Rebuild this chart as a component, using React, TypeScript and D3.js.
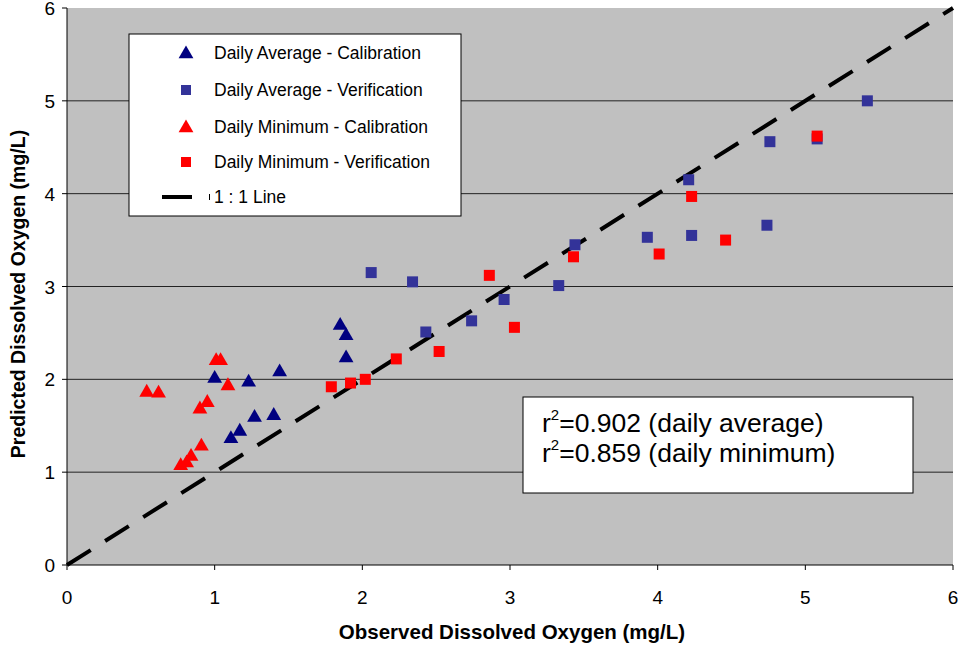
import React from "react";
import * as d3 from "d3";

const avgCalX = [1.0, 1.23, 1.44, 1.85, 1.89, 1.89, 1.27, 1.40, 1.17, 1.11];
const avgCalY = [2.02, 1.98, 2.09, 2.59, 2.48, 2.24, 1.60, 1.62, 1.45, 1.37];

const avgVerX = [2.06, 2.34, 2.43, 2.74, 2.96, 3.33, 3.44, 3.93, 4.23, 4.74, 4.21, 4.76, 5.08, 5.42];
const avgVerY = [3.15, 3.05, 2.51, 2.63, 2.86, 3.01, 3.45, 3.53, 3.55, 3.66, 4.15, 4.56, 4.59, 5.0];

const minCalX = [0.54, 0.62, 1.01, 1.04, 1.09, 0.95, 0.90, 0.91, 0.84, 0.81, 0.77];
const minCalY = [1.87, 1.86, 2.21, 2.21, 1.94, 1.76, 1.69, 1.29, 1.18, 1.11, 1.08];

const minVerX = [1.79, 1.92, 2.02, 2.23, 2.52, 2.86, 3.03, 3.43, 4.01, 4.23, 4.46, 5.08];
const minVerY = [1.92, 1.96, 2.0, 2.22, 2.30, 3.12, 2.56, 3.32, 3.35, 3.97, 3.50, 4.62];

const xTicks = [0, 1, 2, 3, 4, 5, 6];
const yTicks = [0, 1, 2, 3, 4, 5, 6];
const legendLabels = [
  "Daily Average - Calibration",
  "Daily Average - Verification",
  "Daily Minimum - Calibration",
  "Daily Minimum - Verification",
  "1 : 1 Line",
];
const statLines = [
  { r: "0.902", label: "(daily average)" },
  { r: "0.859", label: "(daily minimum)" },
];

const NAVY = "#000080";
const BLUE = "#333399";
const RED = "#FF0000";
const FONT = "Arial, 'Liberation Sans', sans-serif";

const L = 67, R = 953, T = 8, B = 565;

export default function App() {
  const x = d3.scaleLinear().domain([0, 6]).range([L, R]);
  const y = d3.scaleLinear().domain([0, 6]).range([B, T]);
  const tri = d3.symbol().type(d3.symbolTriangle).size(95)() as string;
  const sq = 11;

  const triangles = (xs: number[], ys: number[], color: string) =>
    xs.map((v, i) => (
      <path key={i} d={tri} fill={color} transform={`translate(${x(v)},${y(ys[i]) + 1})`} />
    ));
  const squares = (xs: number[], ys: number[], color: string) =>
    xs.map((v, i) => (
      <rect key={i} x={x(v) - sq / 2} y={y(ys[i]) - sq / 2} width={sq} height={sq} fill={color} />
    ));

  const line = d3.line<number>().x((d) => x(d)).y((d) => y(d))([0, 6]) as string;

  const legendRows = [53, 90, 127, 162, 197];

  return (
    <svg
      width={962}
      height={647}
      style={{ position: "absolute", left: 0, top: 0, background: "#fff" }}
      fontFamily={FONT}
    >
      <rect x={L} y={T} width={R - L} height={B - T} fill="#c0c0c0" />
      {yTicks.filter((t) => t > 0 && t < 6).map((t) => (
        <line key={t} x1={L} x2={R} y1={y(t)} y2={y(t)} stroke="#222" strokeWidth={1} />
      ))}
      {/* axes */}
      <line x1={L} x2={L} y1={T} y2={B} stroke="#000" strokeWidth={1} />
      <line x1={L} x2={R} y1={B} y2={B} stroke="#000" strokeWidth={1} />
      {yTicks.map((t) => (
        <g key={t}>
          <line x1={L - 5} x2={L} y1={y(t)} y2={y(t)} stroke="#000" />
          <text x={L - 12} y={y(t) + 7} textAnchor="end" fontSize={19}>{t}</text>
        </g>
      ))}
      {xTicks.map((t) => (
        <g key={t}>
          <line x1={x(t)} x2={x(t)} y1={B} y2={B + 5} stroke="#000" />
          <text x={x(t)} y={B + 39} textAnchor="middle" fontSize={19}>{t}</text>
        </g>
      ))}
      <text x={512} y={639} textAnchor="middle" fontSize={20.5} fontWeight="bold">
        Observed Dissolved Oxygen (mg/L)
      </text>
      <text
        transform={`translate(25,294) rotate(-90)`}
        textAnchor="middle"
        fontSize={19.5}
        fontWeight="bold"
      >
        Predicted Dissolved Oxygen (mg/L)
      </text>

      <path d={line} stroke="#000" strokeWidth={4} strokeDasharray="28,17" fill="none" />

      {triangles(avgCalX, avgCalY, NAVY)}
      {squares(avgVerX, avgVerY, BLUE)}
      {triangles(minCalX, minCalY, RED)}
      {squares(minVerX, minVerY, RED)}

      {/* legend */}
      <rect x={129} y={34} width={332} height={182} fill="#fff" stroke="#000" strokeWidth={1} />
      <path d={tri} fill={NAVY} transform={`translate(186,${legendRows[0] + 1})`} />
      <rect x={186 - 5} y={legendRows[1] - 5} width={10} height={10} fill={BLUE} />
      <path d={tri} fill={RED} transform={`translate(186,${legendRows[2] + 1})`} />
      <rect x={186 - 5} y={legendRows[3] - 5} width={10} height={10} fill={RED} />
      <line x1={162} x2={192} y1={legendRows[4]} y2={legendRows[4]} stroke="#000" strokeWidth={4} />
      <line x1={209.5} x2={209.5} y1={legendRows[4] - 3} y2={legendRows[4] + 3} stroke="#000" strokeWidth={1} />
      {legendLabels.map((s, i) => (
        <text key={i} x={214} y={legendRows[i] + 6} fontSize={17.5}>{s}</text>
      ))}

      {/* stats box */}
      <rect x={523} y={397} width={390} height={96} fill="#fff" stroke="#000" strokeWidth={1} />
      {statLines.map((s, i) => (
        <text key={i} x={542} y={432 + i * 30} fontSize={26.5}>
          r<tspan dy={-12} fontSize={15}>2</tspan>
          <tspan dy={12}>={s.r} {s.label}</tspan>
        </text>
      ))}
    </svg>
  );
}
